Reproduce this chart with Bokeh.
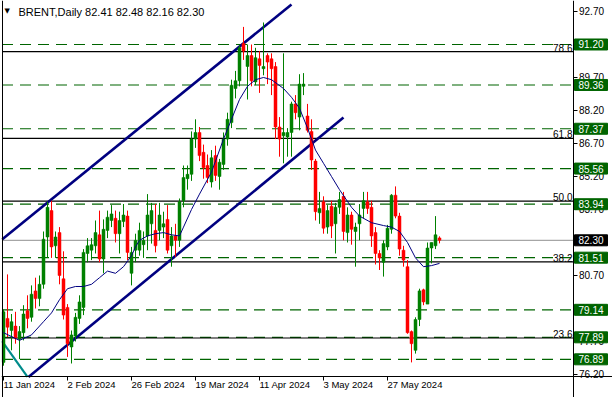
from bokeh.plotting import figure
from bokeh.models import Range1d, FixedTicker, Label, PrintfTickFormatter, LinearAxis
from bokeh.core.properties import value
from bokeh.embed import file_html
from bokeh.resources import INLINE

# ---------------- data ----------------
symbol_title = "BRENT,Daily  82.41 82.48 82.16 82.30"

tick_bars = [0, 16, 32, 48, 64, 80, 96]
tick_labels = ["11 Jan 2024", "2 Feb 2024", "26 Feb 2024", "19 Mar 2024",
               "11 Apr 2024", "3 May 2024", "27 May 2024"]

opens = [76.75, 78.75, 78.20, 78.40, 77.80, 78.10, 79.10, 78.80, 80.00, 79.65,
         80.30, 82.45, 83.65, 82.05, 82.65, 80.55, 79.25, 77.45, 77.95, 78.75,
         79.25, 81.70, 81.85, 82.05, 82.55, 81.45, 82.75, 83.20, 83.30, 82.60,
         83.15, 83.40, 80.80, 81.85, 81.85, 82.10, 82.50, 83.05, 82.75, 82.75,
         82.90, 83.25, 82.05, 82.50, 82.30, 84.10, 85.10, 85.30, 86.90, 87.20,
         86.30, 85.70, 84.95, 86.15, 85.20, 85.75, 86.90, 87.65, 89.20, 89.55,
         91.25, 90.20, 90.70, 89.50, 90.55, 90.10, 90.70, 90.55, 90.20, 87.45,
         87.05, 87.00, 87.20, 88.50, 87.90, 89.30, 87.95, 87.25, 85.90, 83.55,
         84.05, 82.90, 83.85, 83.05, 83.80, 84.30, 82.65, 83.45, 82.70, 83.05,
         83.75, 84.05, 83.80, 82.65, 81.70, 81.30, 82.00, 82.80, 84.35, 83.40,
         81.85, 81.10, 78.15, 77.30, 78.70, 80.05, 79.40, 81.95, 82.05, 82.41]
highs = [79.15, 80.75, 78.95, 79.05, 78.40, 79.35, 79.80, 80.25, 80.60, 80.70,
         82.70, 84.05, 84.10, 82.70, 82.90, 81.80, 79.40, 78.20, 79.00, 79.80,
         81.90, 82.40, 82.40, 83.20, 83.65, 83.25, 83.65, 83.90, 83.65, 83.60,
         83.95, 83.65, 82.00, 82.60, 83.10, 82.70, 84.40, 84.00, 83.95, 84.00,
         83.60, 83.90, 82.90, 83.05, 84.20, 85.70, 85.70, 87.25, 87.80, 87.45,
         86.65, 86.20, 86.40, 86.60, 86.00, 87.20, 88.10, 89.60, 90.00, 91.15,
         92.00, 91.20, 91.20, 91.05, 90.90, 92.20, 90.80, 90.80, 90.40, 87.90,
         90.80, 87.40, 88.60, 88.90, 89.85, 89.90, 88.50, 87.80, 86.00, 84.50,
         84.30, 83.90, 84.10, 84.00, 84.50, 84.50, 83.80, 83.60, 83.10, 83.95,
         84.50, 84.50, 84.10, 82.90, 81.85, 82.30, 83.00, 84.40, 84.75, 83.55,
         82.05, 81.40, 78.20, 78.80, 80.10, 80.10, 82.20, 82.20, 83.40, 82.48]
lows = [76.60, 77.90, 77.30, 77.60, 76.90, 77.75, 78.30, 78.60, 79.20, 79.30,
        80.10, 81.50, 81.50, 81.50, 80.30, 78.70, 77.00, 76.70, 77.70, 78.50,
        78.90, 81.30, 81.40, 81.70, 81.30, 80.80, 82.40, 82.90, 82.20, 81.70,
        82.90, 81.40, 80.25, 81.30, 81.60, 81.50, 81.85, 82.15, 81.75, 82.30,
        82.40, 81.70, 81.10, 81.55, 82.00, 83.80, 84.60, 85.00, 86.50, 85.90,
        85.10, 84.90, 84.70, 85.00, 84.60, 85.50, 86.60, 87.40, 88.75, 89.30,
        90.50, 88.70, 89.30, 89.35, 89.00, 89.80, 89.40, 88.90, 86.90, 86.10,
        85.80, 86.10, 86.10, 87.80, 87.30, 88.90, 87.20, 85.50, 83.20, 83.05,
        82.60, 82.60, 82.40, 81.70, 83.50, 82.30, 82.20, 82.10, 81.10, 82.30,
        83.30, 83.50, 82.00, 81.20, 80.95, 80.65, 81.85, 82.60, 83.30, 81.60,
        81.10, 78.05, 76.75, 77.15, 78.40, 79.35, 79.40, 81.25, 81.90, 82.16]
closes = [79.05, 78.35, 78.60, 77.85, 78.15, 78.95, 78.75, 79.85, 79.65, 80.30,
          82.35, 83.80, 82.00, 82.45, 80.70, 78.90, 77.60, 78.00, 78.80, 79.50,
          81.75, 82.05, 82.10, 82.65, 81.45, 82.80, 83.35, 83.50, 82.60, 83.20,
          83.45, 81.75, 81.75, 82.30, 82.75, 82.30, 83.45, 83.65, 82.05, 83.45,
          83.05, 81.85, 82.50, 82.30, 84.05, 85.15, 85.30, 86.90, 87.20, 86.15,
          85.60, 85.15, 86.05, 85.25, 85.85, 86.90, 87.80, 89.35, 89.55, 91.05,
          90.90, 90.70, 89.55, 90.60, 90.25, 90.20, 90.40, 90.10, 87.45, 86.90,
          87.20, 87.20, 88.50, 88.10, 89.40, 89.40, 87.30, 85.95, 83.60, 83.75,
          82.85, 83.65, 82.95, 83.80, 84.15, 82.70, 83.45, 82.80, 82.90, 83.45,
          84.10, 83.75, 82.50, 81.70, 81.50, 82.15, 82.85, 84.35, 83.40, 81.90,
          81.40, 78.10, 77.60, 78.70, 80.00, 79.50, 81.95, 82.20, 82.55, 82.30]

# moving average line, read at selected bars
ma_bar = [0, 4, 7, 10, 12, 14, 16, 18, 20, 22, 24, 26, 28, 30, 32, 33, 34, 36,
          38, 40, 42, 44, 45, 47, 49, 52, 55, 57, 59, 61, 63, 65, 67, 70, 72,
          74, 76, 78, 80, 82, 84, 87, 89, 92, 95, 97, 99, 101, 103, 105, 107, 109]
ma_val = [78.10, 77.75, 78.00, 78.60, 79.00, 79.60, 80.10, 80.20, 80.20, 80.30,
          80.60, 80.90, 80.80, 81.10, 81.60, 82.00, 82.30, 82.50, 82.60, 82.65,
          82.55, 82.50, 82.90, 83.70, 84.40, 85.40, 86.90, 87.80, 88.70, 89.30,
          89.60, 89.70, 89.60, 89.20, 88.80, 88.30, 87.40, 86.40, 85.80, 85.20,
          84.60, 83.80, 83.40, 83.10, 82.97, 82.90, 82.70, 82.20, 81.50, 81.10,
          81.15, 81.25]

# horizontal levels
dashed_levels = [91.20, 89.36, 87.37, 85.56, 83.94, 81.51, 79.14, 77.89, 76.89]
fib_levels = [90.88, 86.93, 84.08, 81.32, 77.86]
fib_labels = ["78.6", "61.8", "50.0", "38.2", "23.6"]
last_price = 82.30

# trend channel lines (bar, price) end points
upper_bars, upper_prices = [-0.375, 72.0], [82.34, 93.02]
lower_bars, lower_prices = [6.25, 85.0], [76.09, 87.88]
old_bars, old_prices = [-0.375, 6.0], [77.72, 76.09]

y_ticks = [76.20, 77.70, 79.20, 80.70, 82.20, 83.70, 85.20, 86.70, 88.20,
           89.70, 91.20, 92.70]

# ---------------- layout / styles ----------------
FONT = "Liberation Sans"
GREEN = "#008000"
RED = "#FF0000"
DGREEN = "#006400"
NAVY = "#000080"

X_LEFT, X_RIGHT = -0.375, 142.375      # chart box edges (bar units)
Y_BOTTOM = 76.0864                     # chart box bottom (price units)
BOX_X = 146.875                        # centre of the price boxes (bar units)

p = figure(width=612, height=397, output_backend="svg", toolbar_location=None,
           x_range=Range1d(-0.5, 152.25), y_range=Range1d(75.1545, 93.2),
           y_axis_location="right", min_border_left=1, min_border_right=0,
           min_border_top=0, min_border_bottom=0)
p.grid.visible = False
p.outline_line_color = None
p.background_fill_color = "white"
p.border_fill_color = "white"

# right price axis, drawn at the chart box's right edge
ya = p.yaxis[0]
ya.fixed_location = X_RIGHT
ya.ticker = FixedTicker(ticks=y_ticks)
ya.formatter = PrintfTickFormatter(format="%.2f")
ya.major_label_text_font = FONT
ya.major_label_text_font_size = "10px"
ya.major_label_text_color = "black"
ya.major_tick_in = 0
ya.major_tick_out = 4
ya.minor_tick_out = 0
ya.minor_tick_in = 0
ya.major_label_standoff = 2
ya.axis_line_color = "black"
ya.major_tick_line_color = "black"

# bottom time axis (tick marks); labels are left-aligned texts below
xa = p.xaxis[0]
xa.fixed_location = Y_BOTTOM
xa.ticker = FixedTicker(ticks=tick_bars)
xa.major_label_text_alpha = 0
xa.major_tick_in = 0
xa.major_tick_out = 4
xa.minor_tick_out = 0
xa.minor_tick_in = 0
xa.axis_line_color = "black"
xa.major_tick_line_color = "black"

# left border of the chart box
la = LinearAxis(fixed_location=X_LEFT, major_tick_in=0, major_tick_out=0,
                minor_tick_in=0, minor_tick_out=0, major_label_text_alpha=0,
                axis_line_color="black")
p.add_layout(la, "left")

for t, lab in zip(tick_bars, tick_labels):
    p.add_layout(Label(x=t, y=75.973, text=lab, text_align="left",
                       text_baseline="top", text_font=FONT,
                       text_font_size="9.5px", text_color="black"))

# horizontal levels
n_d = len(dashed_levels)
p.segment(x0=[X_LEFT] * n_d, x1=[X_RIGHT] * n_d, y0=dashed_levels,
          y1=dashed_levels, line_color=DGREEN, line_width=1.2, line_dash="11 7")
n_f = len(fib_levels)
p.segment(x0=[X_LEFT] * n_f, x1=[X_RIGHT] * n_f, y0=fib_levels,
          y1=fib_levels, line_color="black", line_width=1.2)
p.segment(x0=[X_LEFT], x1=[X_RIGHT], y0=[last_price], y1=[last_price],
          line_color="#909090", line_width=1)

# trend lines
p.line(upper_bars, upper_prices, line_color=NAVY, line_width=2.6)
p.line(lower_bars, lower_prices, line_color=NAVY, line_width=2.6)
p.line(old_bars, old_prices, line_color="#008B8B", line_width=2.2)

# candles
xs = list(range(len(opens)))
gi = [i for i in xs if closes[i] >= opens[i]]
ri = [i for i in xs if closes[i] < opens[i]]
for idx, col in ((gi, GREEN), (ri, RED)):
    p.segment(x0=[xs[i] for i in idx], y0=[lows[i] for i in idx],
              x1=[xs[i] for i in idx], y1=[highs[i] for i in idx],
              line_color=col, line_width=1)
    p.vbar(x=[xs[i] for i in idx], width=0.75,
           bottom=[min(opens[i], closes[i]) for i in idx],
           top=[max(opens[i], closes[i]) for i in idx],
           fill_color=col, line_color=col, line_width=0.5)

# moving average
p.line(ma_bar, ma_val, line_color=NAVY, line_width=1)

# fib labels
for lv, lab in zip(fib_levels, fib_labels):
    p.add_layout(Label(x=142.25, y=lv, text=lab, text_align="right",
                       text_baseline="bottom", text_font=FONT,
                       text_font_size="10px", text_color="black"))

# price boxes on the axis (drawn above the axis labels)
box_vals = dashed_levels + [last_price]
box_cols = [DGREEN] * n_d + ["black"]
p.rect(x=[BOX_X] * len(box_vals), y=box_vals, width=33, height=11,
       width_units="screen", height_units="screen", fill_color=box_cols,
       line_color=box_cols, level="overlay")
p.text(x=[BOX_X] * len(box_vals), y=box_vals,
       text=[f"{v:.2f}" for v in box_vals], text_align="center",
       text_baseline="middle", text_color="white", text_font=value(FONT),
       text_font_size="10px", level="overlay")

# title
p.add_layout(Label(x=3, y=391, x_units="screen", y_units="screen", text="\u25bc",
                   text_baseline="top", text_font="DejaVu Sans",
                   text_font_size="7px", text_color="black"))
p.add_layout(Label(x=17, y=392, x_units="screen", y_units="screen",
                   text=symbol_title, text_baseline="top", text_font=FONT,
                   text_font_size="11px", text_color="black"))

open("out.html", "w").write(file_html(p, INLINE))
